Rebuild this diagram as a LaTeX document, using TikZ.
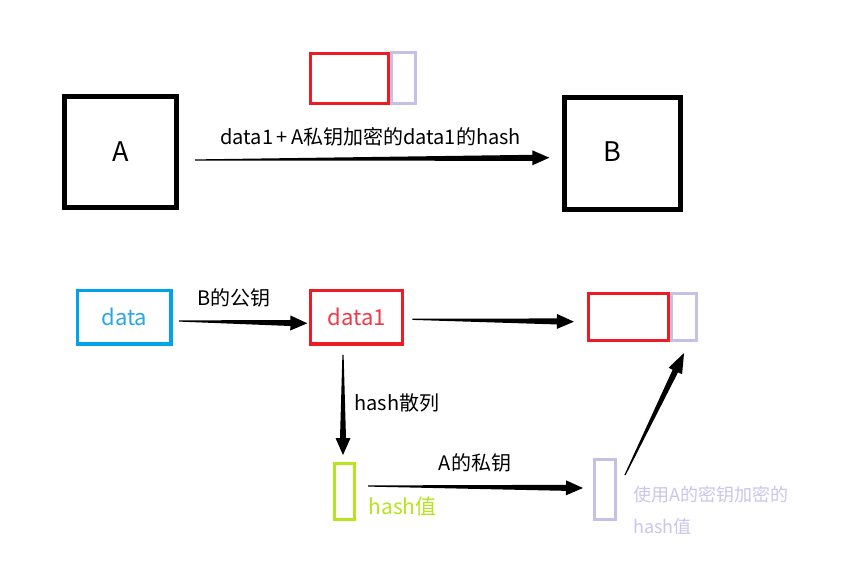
\documentclass[tikz,border=0pt]{standalone}
\usepackage{fontspec}
\setmainfont{Noto Sans CJK SC}
\usetikzlibrary{calc}
\definecolor{boxred}{HTML}{ED1C24}
\definecolor{redtext}{HTML}{EE3A47}
\definecolor{boxblue}{HTML}{00A2E8}
\definecolor{bluetext}{HTML}{2AA7E6}
\definecolor{lav}{HTML}{C8BFE7}
\definecolor{lavtext}{HTML}{CDC5EA}
\definecolor{lime}{HTML}{B5E61D}
\newcommand{\taperarrow}[3][17pt]{%
  \coordinate (tpm) at ($(#3)!#1!(#2)$);
  \fill ($(#2)!0.6pt!90:(#3)$) -- ($(tpm)!3pt!90:(#3)$) -- ($(tpm)!7.5pt!90:(#3)$) -- (#3)
    -- ($(tpm)!7.5pt!-90:(#3)$) -- ($(tpm)!3pt!-90:(#3)$) -- ($(#2)!0.6pt!-90:(#3)$) -- cycle;
}
\begin{document}
\begin{tikzpicture}[x=1pt,y=-1pt,
  bx/.style={draw, line width=#1, inner sep=0pt},
  lbl/.style={inner sep=0pt, font=\fontsize{20}{24}\selectfont},
  big/.style={font=\fontsize{27}{30}\selectfont}]
\useasboundingbox[fill=white] (0,0) rectangle (856,583);

% top row
\node[bx=4.7pt, minimum width=111.7pt, minimum height=111.4pt, big] (A) at (120.5,152) {A};
\node[bx=4.7pt, minimum width=115.7pt, minimum height=112pt] (B) at (622.5,153.3) {};
\node[big, inner sep=0pt] (Blab) at (612.7,151.7) {B};
\node[bx=3pt, draw=boxred, minimum width=78pt, minimum height=50pt] (r1) at (349.5,78.5) {};
\node[bx=3pt, draw=lav, minimum width=24pt, minimum height=51pt] (l1) at (403.5,78) {};

\coordinate (t1s) at ([shift={(16.3,8)}]A.east);
\coordinate (t1e) at ([shift={(-13,4.4)}]B.west);
\taperarrow{t1s}{t1e}
\node[lbl] (t1lab) at (370.7,136.7) {data1\,+\,A私钥加密的data1的hash};

% bottom part
\node[bx=3.3pt, draw=boxblue, minimum width=93.3pt, minimum height=53.3pt,
      text=bluetext, font=\fontsize{22}{26}\selectfont] (data) at (124.3,317.3) {data};
\node[bx=3.3pt, draw=boxred, minimum width=92pt, minimum height=53.3pt,
      text=redtext, font=\fontsize{22}{26}\selectfont] (d1) at (356.7,317.3) {data1};
\node[bx=3pt, draw=boxred, minimum width=80pt, minimum height=47.6pt] (r2) at (628.7,317) {};
\node[bx=3pt, draw=lav, minimum width=24.7pt, minimum height=47.6pt] (l2) at (683.85,317) {};
\node[bx=3pt, draw=lime, minimum width=19.4pt, minimum height=56pt] (g) at (344.5,491.2) {};
\node[bx=3pt, draw=lav, minimum width=20.4pt, minimum height=59.7pt] (l3) at (605,489.7) {};

\coordinate (a1s) at ([shift={(6.6,3.7)}]data.east);
\coordinate (a1e) at ([shift={(-1.7,6)}]d1.west);
\taperarrow{a1s}{a1e}
\node[lbl] (a1lab) at (233.8,298.3) {B的公钥};

\coordinate (a2s) at ([shift={(8,2)}]d1.east);
\coordinate (a2e) at ([shift={(-13.3,4.7)}]r2.west);
\taperarrow{a2s}{a2e}

\coordinate (a3s) at ([shift={(-13.7,9.3)}]d1.south);
\coordinate (a3e) at ([shift={(-1.5,-6.7)}]g.north);
\taperarrow{a3s}{a3e}
\node[lbl] (a3lab) at (396.7,403.3) {hash散列};

\node[inner sep=0pt, text=lime, font=\fontsize{21}{25}\selectfont] (glab) at (402.5,506.7) {hash值};

\coordinate (a4s) at ([shift={(12.3,-5.2)}]g.east);
\coordinate (a4e) at ([shift={(-10.3,-1.7)}]l3.west);
\taperarrow{a4s}{a4e}
\node[lbl] (a4lab) at (475,463.3) {A的私钥};

\coordinate (a5s) at ([shift={(8.3,16.7)}]l3.north east);
\coordinate (a5e) at ([shift={(0.2,10.7)}]l2.south);
\taperarrow[20pt]{a5s}{a5e}

\node[inner sep=0pt, anchor=west, align=left, text=lavtext,
      font=\fontsize{18}{31.7}\selectfont] (lavlab) at (633.3,510.8) {使用A的密钥加密的\\hash值};
\end{tikzpicture}
\end{document}
